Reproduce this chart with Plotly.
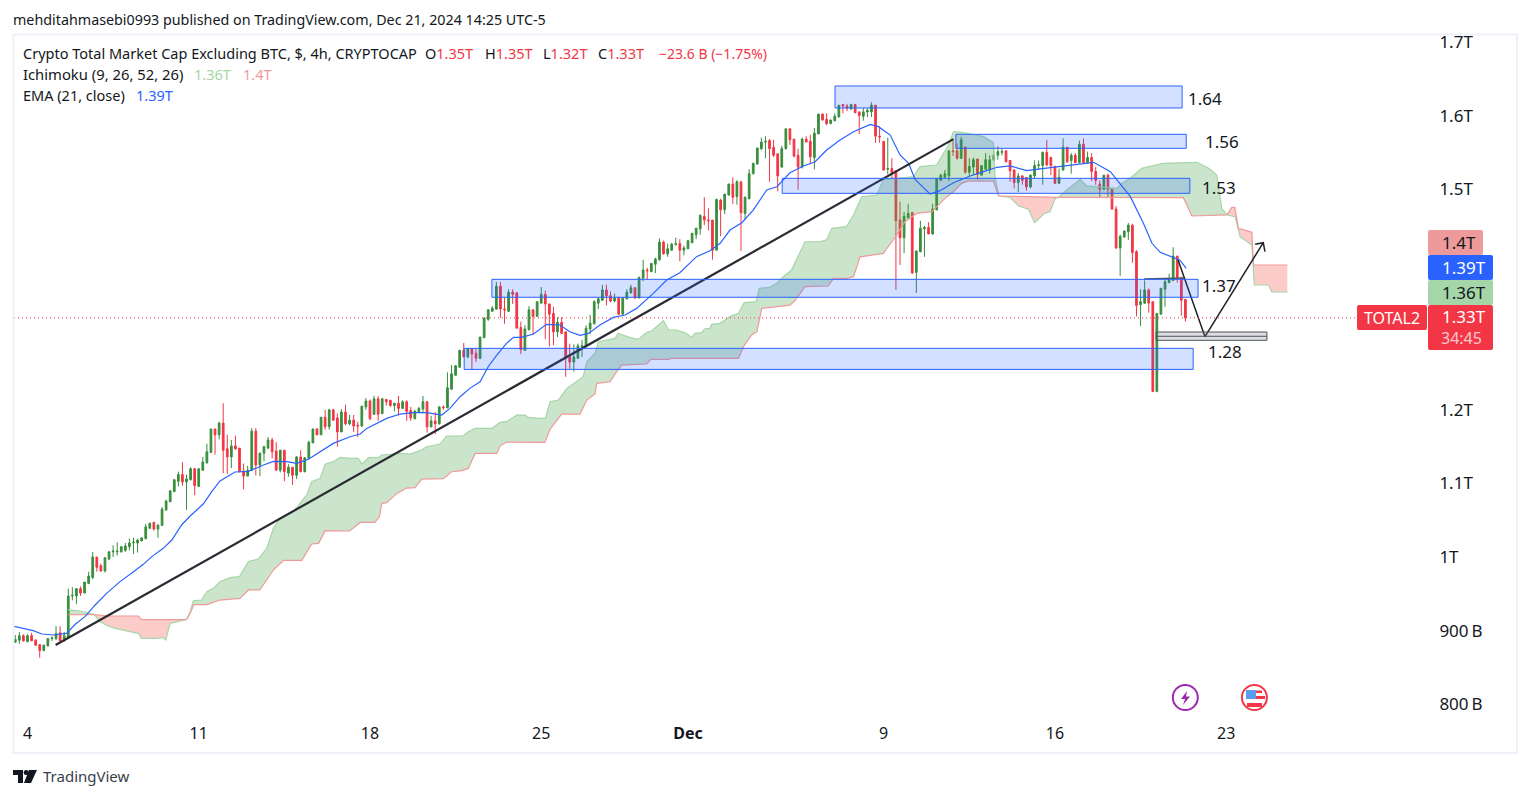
import plotly.graph_objects as go

# ---------- candles (billions USD), one per 4h bar; bar 0 = Nov 4 00:00 ----------
first_bar = -3
opens = [
884,887,893,885,893,887,881,873,879,889,889,897,886,891,947,947,957,951,964,972,
1000,988,981,997,1007,1007,1007,1009,1014,1019,1019,1022,1025,1039,1047,1038,1043,1064,1075,1089,
1103,1112,1102,1105,1120,1096,1118,1128,1142,1174,1166,1182,1147,1136,1151,1148,1117,1110,1118,1171,
1125,1141,1148,1159,1144,1118,1145,1114,1122,1111,1136,1116,1134,1155,1174,1166,1190,1177,1200,1189,
1170,1197,1181,
1186,1179,1178,1204,1212,1194,1215,1195,1214,1213,1206,1209,1202,1211,1199,1188,1197,1201,1211,1177,
1185,1181,1204,1203,1228,1247,1258,1281,1272,1283,1277,1270,1298,1323,1334,1337,1368,1337,1334,1360,
1359,1312,1281,1309,1336,1327,1345,1357,1344,1331,1306,1319,1306,1272,1265,1270,1286,1287,1310,1317,
1345,1349,1363,1355,1348,1352,1330,1351,1359,1366,1352,1379,1390,
1388,1398,1404,1428,1412,1417,1425,1426,1417,1419,1427,1438,1446,1463,1458,1458,1417,1485,1472,1492,
1507,1490,1510,1467,1487,1521,1534,1555,1564,1566,1557,1548,1530,1555,1582,1568,1546,1530,1568,1565,
1543,1575,1602,1595,1589,1593,1598,1615,1613,1609,1615,1605,1599,1605,1605,1614,1572,1565,1527,1528,
1525,1458,1434,1461,1468,1387,1415,1446,1448,1439,1472,1512,1516,1518,1552,1552,1542,1557,1523,
1530,1541,1519,1527,1526,1540,1546,1550,1552,1539,1526,1509,1518,1516,1503,1518,1532,1532,1550,1543,
1531,1508,1526,1557,1539,1546,1536,1561,1536,1543,1524,1507,1500,1519,1500,1473,1420,1435,1442,1451,
1415,1343,1345,1363,1347,1225,1330,1364,1373,1376,1409,1379,1350]
highs = [
894,898,895,895,897,888,881,881,890,892,906,906,898,957,959,957,960,966,980,1007,
1000,991,999,1008,1016,1020,1015,1019,1025,1026,1025,1026,1045,1046,1048,1045,1068,1078,1090,1106,
1116,1129,1112,1122,1121,1120,1136,1154,1174,1174,1184,1209,1166,1159,1165,1148,1127,1124,1175,1175,
1142,1151,1163,1162,1156,1146,1145,1126,1122,1137,1145,1135,1158,1174,1175,1190,1200,1201,1201,1195,
1201,1207,1193,
1193,1184,1205,1216,1214,1219,1219,1216,1215,1213,1209,1219,1213,1213,1204,1200,1204,1219,1212,1192,
1197,1205,1206,1251,1261,1261,1281,1291,1284,1284,1284,1299,1325,1337,1341,1374,1374,1352,1364,1364,
1360,1320,1315,1341,1336,1347,1367,1362,1344,1340,1326,1326,1306,1290,1289,1290,1295,1315,1329,1349,
1352,1370,1370,1361,1358,1354,1353,1364,1370,1366,1381,1404,1393,
1399,1407,1433,1430,1426,1427,1434,1432,1423,1430,1440,1447,1466,1489,1474,1458,1487,1487,1494,1507,
1516,1512,1510,1490,1527,1536,1556,1570,1572,1568,1567,1548,1559,1582,1582,1568,1555,1570,1572,1574,
1583,1602,1603,1603,1594,1603,1614,1615,1616,1616,1616,1605,1610,1610,1618,1614,1585,1565,1570,1542,
1525,1483,1469,1480,1469,1416,1457,1450,1455,1480,1515,1521,1526,1553,1567,1562,1571,1558,1542,
1543,1541,1532,1549,1546,1558,1558,1555,1553,1539,1527,1522,1519,1516,1520,1539,1539,1551,1567,1544,
1531,1528,1569,1557,1549,1549,1566,1569,1551,1549,1530,1512,1519,1521,1500,1477,1438,1444,1454,1453,
1417,1364,1376,1365,1347,1331,1366,1378,1385,1421,1409,1381,1351]
lows = [
884,882,885,884,886,880,863,872,879,886,887,885,885,890,941,936,947,951,963,970,
980,980,979,997,1000,1002,1006,1007,1009,1004,1006,1021,1024,1039,1036,1026,1042,1063,1075,1088,
1096,1097,1064,1104,1084,1095,1117,1127,1142,1139,1160,1114,1113,1121,1146,1115,1092,1110,1117,1111,
1110,1130,1147,1134,1118,1115,1103,1109,1098,1106,1115,1115,1133,1155,1166,1166,1173,1173,1185,1150,
1170,1179,1179,
1170,1163,1177,1200,1186,1193,1185,1194,1206,1204,1198,1192,1201,1185,1185,1187,1197,1195,1169,1176,
1167,1180,1200,1202,1228,1247,1258,1271,1270,1255,1265,1269,1298,1321,1334,1336,1325,1317,1333,1344,
1311,1276,1280,1308,1302,1327,1345,1296,1286,1288,1299,1303,1245,1256,1252,1270,1272,1286,1303,1316,
1337,1348,1342,1346,1346,1329,1330,1350,1358,1351,1352,1375,1377,
1387,1386,1403,1411,1408,1416,1423,1402,1410,1419,1427,1432,1438,1451,1444,1404,1417,1436,1466,1491,
1480,1479,1416,1458,1486,1520,1534,1553,1542,1510,1544,1497,1529,1554,1560,1543,1499,1528,1564,1534,
1527,1575,1593,1587,1589,1592,1598,1603,1606,1608,1603,1575,1593,1598,1598,1563,1563,1525,1520,1515,
1363,1397,1413,1460,1385,1359,1414,1408,1439,1438,1471,1511,1516,1511,1545,1540,1541,1521,1517,
1519,1513,1519,1527,1521,1538,1540,1546,1537,1510,1501,1496,1506,1498,1501,1515,1526,1506,1531,1519,
1507,1507,1525,1536,1521,1535,1535,1535,1535,1511,1506,1489,1499,1489,1472,1419,1382,1434,1431,1400,
1327,1314,1344,1332,1224,1224,1330,1340,1372,1375,1373,1328,1320]
closes = [
888,893,886,893,886,880,873,880,889,890,896,886,893,947,948,957,951,966,974,1000,
986,981,999,1007,1008,1008,1014,1015,1019,1020,1023,1026,1041,1046,1038,1043,1065,1076,1090,1105,
1112,1102,1106,1120,1097,1120,1129,1143,1174,1166,1182,1145,1136,1151,1147,1116,1110,1118,1171,1125,
1141,1150,1159,1143,1118,1145,1116,1122,1111,1136,1116,1135,1156,1174,1166,1190,1177,1200,1186,1170,
1197,1181,1186,
1178,1178,1205,1212,1188,1215,1194,1215,1211,1206,1209,1202,1211,1198,1189,1198,1202,1211,1177,1185,
1181,1204,1203,1230,1249,1260,1281,1272,1283,1276,1270,1299,1325,1336,1338,1368,1337,1336,1360,1357,
1311,1282,1310,1336,1327,1347,1357,1344,1330,1306,1319,1304,1270,1265,1272,1287,1287,1311,1318,1347,
1351,1363,1355,1348,1352,1330,1352,1360,1366,1352,1380,1390,1389,
1399,1405,1428,1412,1419,1425,1426,1417,1420,1430,1440,1447,1464,1458,1457,1417,1486,1472,1493,1507,
1489,1510,1468,1489,1521,1535,1556,1564,1565,1555,1546,1518,1555,1582,1567,1545,1530,1568,1564,1544,
1576,1602,1594,1589,1594,1599,1614,1613,1610,1615,1604,1600,1605,1607,1614,1572,1571,1526,1528,1521,
1457,1434,1463,1467,1386,1416,1447,1448,1439,1473,1514,1519,1521,1552,1551,1542,1567,1523,1531,
1540,1520,1532,1540,1540,1546,1551,1551,1537,1525,1509,1518,1512,1503,1519,1532,1533,1550,1533,1532,
1508,1516,1557,1537,1546,1536,1561,1536,1543,1524,1512,1500,1519,1500,1473,1420,1436,1443,1451,1414,
1342,1347,1363,1345,1225,1331,1365,1374,1377,1409,1380,1349,1325]

# ---------- EMA(21) ----------
ema_bar = [-3.5,-0.6,1.4,3.5,6.3,9.6,11.7,14.1,16.6,19.4,22.7,26,28.4,30.5,33.3,35.4,37.8,39.9,43.1,45.2,47.2,50.9,54.2,57.9,60.3,63.6,66,68.9,71.8,75,79.1,81.6,83.2,88.1,91.4,94.6,97.9,101.6,103.6,106.1,108.5,111,113,115.1,117.5,119.2,121.2,124.1,127.3,130.6,133,135.5,137.6,140.4,143.7,146.6,149.4,153.5,156.8,160,164.1,167.4,169.9,172.3,175.2,178,181.3,183.8,187,190.3,193.2,196,199.3,202.6,206.7,208.7,211.6,214,216.1,217.7,221.4,223.8,227.1,231.2,234.5,237.8,241,245.1,248.4,254.1,258.2,261.5,265.6,268,270.5,273.7,275.8,277.8,281.1,282.6,284.2]
ema_val = [905.8,902.1,899.9,895.3,894,896.2,908.5,918.9,934.8,950.6,966.5,980,990,1000.5,1011.8,1023.1,1043.5,1055.7,1072,1088.8,1103.3,1115.5,1116.4,1125,1130,1129.6,1127.3,1132.8,1143.2,1154.4,1163.5,1167.1,1174.8,1188.4,1194.3,1196.1,1196.1,1192.9,1202,1217.9,1229.2,1238.2,1258.6,1274.5,1290.3,1298.5,1298.5,1303,1316.2,1315.3,1306.2,1301.2,1303.9,1315.3,1325.7,1328.9,1337.9,1358.3,1376.4,1386.4,1408.2,1416.3,1426.3,1444.4,1454.4,1471.6,1498.8,1503.3,1522.3,1531.4,1537.3,1553.1,1566.7,1578,1588,1584.9,1573.5,1546.4,1535,1513.3,1493.3,1497.9,1508.7,1517.8,1523.8,1529.7,1531.5,1525.1,1527.4,1531.5,1535.1,1536.5,1523.8,1507.9,1489.8,1453.5,1426.4,1414.1,1406.9,1403.7,1392.4]

# ---------- Ichimoku cloud, by stretch between line crossings ----------
g1_a_x = [10,12.9,15.2,16.4];  g1_a_y = [928,926.6,923.4,921.6]
g1_b_x = [10,16.4];            g1_b_y = [921.6,921.6]

r1_b_x = [16.4,19.8,27.2,28,35,39];  r1_b_y = [921.6,919.8,919.8,914.8,914.8,915]
r1_a_x = [16.4,17.8,19.8,21.5,25.2,27.2,28,31.7,33.1,33.9,35,36.6,39]
r1_a_y = [921.6,912.1,906.2,903,898.5,896.2,889.5,889.5,890.8,887.2,909.8,912.1,915]

g2_a_x = [39,39.9,40.7,42.7,44,45.6,47.2,49.7,52,54.2,56.6,58.7,60.3,62,65.2,68.5,69.7,71.8,73,75,76.65,79.1,81.1,82.1,83.6,86.1,86.9,91.4,93.8,96.7,97.9,101.2,102.8,106.9,108.1,109.8,113.9,115.9,117.5,120,122,123.1,125.7,127,128.2,130.2,132.3,136.3,137.2,139.2,140,144.1,144.9,147.8,149.8,151.9,153.1,156,157.2,159.2,161.3,162.9,163.7,165.4,166,167.4,167.8,169.9,172.3,174.4,175.8,178.7,179.5,182.1,183.8,185.4,187.4,190.7,194.4,196,197.3,200.9,202.6,204.6,208.3,209.9,217.3,218.9,223,225.9,227.1,229.6,234.5,236.9,237.3,238.2]
g2_a_y = [915,925.7,940.6,941.5,952.9,957.4,966.5,971.9,973.3,993.7,997.3,1011.8,1039,1052.6,1061.6,1084.3,1102.4,1106.9,1126,1129.6,1135.4,1134,1134,1126.3,1135,1135.4,1138.6,1140.8,1139.9,1145.4,1149.9,1153.5,1164.4,1164.8,1170.3,1174.8,1174.8,1183,1183.9,1192.9,1192.9,1189.3,1188.4,1188.4,1211.1,1213.3,1229.2,1245,1265.4,1276.8,1292.6,1297.1,1303.9,1298.1,1295.8,1305.4,1307.2,1321.2,1308.5,1308.5,1304.9,1298.6,1304,1304.9,1309.9,1310.8,1316.2,1317.6,1326.7,1331.2,1345.7,1347,1365.2,1366.5,1372,1381,1390,1428.5,1428.5,1431,1446.7,1449,1464.8,1489.7,1492,1512.4,1516.9,1530.5,1532.8,1560,1578,1576.8,1571.3,1563.2,1517,1490.7]
g2_b_x = [39,39.9,40.8,44,47.2,52.1,54.2,57,60.3,62.8,67.3,69.7,71.4,73,79,81.6,85.2,86.3,86.9,88.1,90.6,93,95.05,96.7,102,104,106.5,108.1,109.8,115.1,115.9,117.5,126.9,128.2,131,135.5,137.2,139.2,139.6,142.9,144.5,145.7,151.9,152.9,157.2,158,174.4,175.6,177.6,178.9,180.1,182.1,187,188.3,190.7,196.4,197.7,200.9,202.6,204.2,209.9,213.2,215.2,218.1,221.8,225,227.1,229.1,230.8,236.9,238.2]
g2_b_y = [915,923.4,935.2,935.2,941.5,943.8,955.2,955.2,982.3,995.5,995.5,1017.7,1018.6,1035.8,1035.3,1047,1047,1054.7,1072.9,1073.8,1086.4,1093.7,1094.2,1105.9,1106.4,1115.9,1117.3,1120.4,1140.8,1140.8,1150.8,1156.2,1155.8,1173.9,1194.3,1194.3,1213.3,1221.5,1236,1238.2,1251.8,1260.9,1262.3,1268.7,1268.7,1270,1270,1285.9,1301.7,1306.3,1338,1339.4,1342.4,1349,1367.4,1368.3,1378.7,1378.7,1381,1408,1412.7,1437.6,1455.7,1467,1469.3,1487.4,1496.5,1507.8,1511,1511,1490.7]

r2_b_x = [238.2,252.9];  r2_b_y = [1490.7,1488.9]
r2_a_x = [238.2,241,243.1,245.5,247,249.2,250.8,252.1,252.9]
r2_a_y = [1490.7,1488.9,1477,1472.6,1454.4,1466.2,1469.4,1487.5,1488.9]

g3_a_x = [252.9,254.9,258.2,259.8,267.2,268.4,270.5,273.3,278.6,286.8,289.7,291.7,292.9,294.2]
g3_a_y = [1488.9,1498.9,1513.3,1504.3,1501.1,1507.9,1514.7,1528.3,1535.1,1536.5,1528.3,1519.2,1473.9,1465]
g3_b_x = [252.9,283.5,285.6,294.2];  g3_b_y = [1488.9,1488.4,1463.5,1465]

r3_b_x = [294.2,295.4,296.1,297,300.3,300.7,309]
r3_b_y = [1465,1475.3,1475.3,1446.7,1441.3,1396.9,1396.9]
r3_a_x = [294.2,296.2,297.4,300.3,300.9,304.4,305.2,309]
r3_a_y = [1465,1462.6,1435.4,1424,1369.7,1369.7,1360.2,1360.2]

# ---------- drawings ----------
zone_left   = [198.06,227.7,185.1,113.9,107.1]
zone_right  = [283.2,284.2,285.1,287.1,285.9]
zone_top    = [1640.2,1574.5,1514.7,1377.4,1283.6]
zone_bottom = [1610.3,1555.5,1494.3,1353,1255]
zone_labels = ["1.64","1.56","1.53","1.37","1.28"]
label_bar   = [288.9,293,292.2,292.2,293.8]
label_price = [1623,1565,1502,1369,1279.5]
gray_zone = [276.8,304,1305.8,1294.5,1300]
trend_x = [6.9,227.1];  trend_y = [880.3,1568]
flat_x = [273.9,283.7]; flat_y = [1377.8,1379.2]
path_x = [282.2,288.8,303.1]; path_y = [1403.7,1299.4,1427.2]
head_x = [301.1,303.1,303.5]; head_y = [1425,1427.2,1415]

last_price = 1325
tick_prices = [800,900,1000,1100,1200,1500,1600,1700]
tick_texts = ["800\u2009B","900\u2009B","1T","1.1T","1.2T","1.5T","1.6T","1.7T"]
date_bars = [0,42,84,126,162,210,252,294]
date_texts = ["4","11","18","25","<b>Dec</b>","9","16","23"]

# ---------- layout helpers ----------
PL, PR, PT, PB = 14, 1428, 35, 719
GREEN, RED, BLUE, INK = "#388E3C", "#F23645", "#2962FF", "#131722"
FONT = "Noto Sans, sans-serif"
def fx(p): return (p - PL) / (PR - PL)
def fy(p): return (PB - p) / (PB - PT)

def rounded(x0, y0, x1, y1, r=2):
    P = lambda a, b: f"{fx(a):.5f},{fy(b):.5f}"
    return (f"M{P(x0+r,y0)} L{P(x1-r,y0)} Q{P(x1,y0)} {P(x1,y0+r)} L{P(x1,y1-r)} Q{P(x1,y1)} {P(x1-r,y1)} "
            f"L{P(x0+r,y1)} Q{P(x0,y1)} {P(x0,y1-r)} L{P(x0,y0+r)} Q{P(x0,y0)} {P(x0+r,y0)} Z")
def poly(points):
    return "M" + " L".join(f"{fx(a):.5f},{fy(b):.5f}" for a, b in points) + " Z"

fig = go.Figure()

def cloud(ax, ay, bx, by, fill):
    fig.add_trace(go.Scatter(x=ax + bx[::-1], y=ay + by[::-1], mode="lines", fill="toself",
                             fillcolor=fill, line=dict(width=0), hoverinfo="skip"))
    fig.add_trace(go.Scatter(x=ax, y=ay, mode="lines", line=dict(color="#A5D6A7", width=1.2), hoverinfo="skip"))
    fig.add_trace(go.Scatter(x=bx, y=by, mode="lines", line=dict(color="#EF9A9A", width=1.2), hoverinfo="skip"))

G_FILL, R_FILL = "rgba(67,160,71,0.28)", "rgba(244,67,54,0.27)"
cloud(g1_a_x, g1_a_y, g1_b_x, g1_b_y, G_FILL)
cloud(r1_a_x, r1_a_y, r1_b_x, r1_b_y, R_FILL)
cloud(g2_a_x, g2_a_y, g2_b_x, g2_b_y, G_FILL)
cloud(r2_a_x, r2_a_y, r2_b_x, r2_b_y, R_FILL)
cloud(g3_a_x, g3_a_y, g3_b_x, g3_b_y, G_FILL)
cloud(r3_a_x, r3_a_y, r3_b_x, r3_b_y, R_FILL)

bars = list(range(first_bar, first_bar + len(closes)))
fig.add_trace(go.Candlestick(
    x=bars, open=opens, high=highs, low=lows, close=closes, whiskerwidth=0,
    increasing=dict(line=dict(color=GREEN, width=1), fillcolor=GREEN),
    decreasing=dict(line=dict(color=RED, width=1), fillcolor=RED),
    hoverinfo="skip"))
fig.add_trace(go.Scatter(x=ema_bar, y=ema_val, mode="lines", line=dict(color=BLUE, width=1.2), hoverinfo="skip"))
fig.add_trace(go.Scatter(x=trend_x, y=trend_y, mode="lines", line=dict(color="#2A2A32", width=2.2), hoverinfo="skip"))
fig.add_trace(go.Scatter(x=flat_x, y=flat_y, mode="lines", line=dict(color="#50535E", width=1.5), hoverinfo="skip"))
fig.add_trace(go.Scatter(x=path_x, y=path_y, mode="lines", line=dict(color="#202028", width=1.5), hoverinfo="skip"))
fig.add_trace(go.Scatter(x=head_x, y=head_y, mode="lines", line=dict(color="#202028", width=1.5), hoverinfo="skip"))

shapes = []
for l, r, t, b in zip(zone_left, zone_right, zone_top, zone_bottom):
    shapes.append(dict(type="rect", xref="x", yref="y", x0=l, x1=r, y0=b, y1=t,
                       fillcolor="rgba(41,98,255,0.2)", line=dict(color=BLUE, width=1)))
shapes.append(dict(type="rect", xref="x", yref="y", x0=gray_zone[0], x1=gray_zone[1], y0=gray_zone[3], y1=gray_zone[2],
                   fillcolor="rgba(120,123,134,0.25)", line=dict(color="#50535E", width=1)))
shapes.append(dict(type="line", xref="x", yref="y", x0=gray_zone[0], x1=gray_zone[1], y0=gray_zone[4], y1=gray_zone[4],
                   line=dict(color="#50535E", width=1)))
shapes.append(dict(type="line", xref="paper", yref="y", x0=0, x1=fx(1358), y0=last_price, y1=last_price,
                   line=dict(color=RED, width=1, dash="1px,3px")))
# page frame
shapes.append(dict(type="rect", xref="paper", yref="paper", x0=fx(13.5), x1=fx(1517), y0=fy(753), y1=fy(34.5),
                   line=dict(color="#F0F1F8", width=2), fillcolor="rgba(0,0,0,0)"))
# price tags
for x0, y0, x1, y1, col in [(1428,230,1483,255,"#EF9A9A"),(1428,255,1493,280,BLUE),(1428,280,1493,305,"#A5D6A7"),
                            (1428,305,1493,350,RED),(1357,305,1427,330,RED)]:
    shapes.append(dict(type="path", xref="paper", yref="paper", path=rounded(x0,y0,x1,y1), fillcolor=col, line=dict(width=0)))
# event icons
def circle(cx, cy, r, line, width, fill="white"):
    return dict(type="circle", xref="paper", yref="paper", x0=fx(cx-r), x1=fx(cx+r), y0=fy(cy+r), y1=fy(cy-r),
                line=dict(color=line, width=width), fillcolor=fill)
shapes.append(circle(1185.3, 697.5, 12.5, "#9C27B0", 2))
shapes.append(dict(type="path", xref="paper", yref="paper", fillcolor="#9C27B0", line=dict(width=0),
                   path=poly([(1187,691),(1181,699),(1185,699),(1183,705),(1190,696.5),(1186,696.5)])))
shapes.append(circle(1254.4, 697.5, 12.5, RED, 2))
for x0, y0, x1, y1, col in [(1246,690,1256,699,"#5B9CF0"),(1256,690.5,1262,693,RED),(1256,696,1265,699,RED),(1247,703,1262,707,RED)]:
    shapes.append(dict(type="rect", xref="paper", yref="paper", x0=fx(x0), x1=fx(x1), y0=fy(y1), y1=fy(y0),
                       fillcolor=col, line=dict(width=0)))
# logo
for pts in [[(13,770),(23,770),(23,783),(18,783),(18,775),(13,775)],
            [(29,770),(37,770),(31,783),(24,783)]]:
    shapes.append(dict(type="path", xref="paper", yref="paper", path=poly(pts), fillcolor=INK, line=dict(width=0)))
shapes.append(circle(26.2, 772.4, 2.5, INK, 0, INK))

ann = []
def text(x, y, s, size=14, color=INK, anchor="left", family=FONT):
    ann.append(dict(xref="paper", yref="paper", x=fx(x), y=fy(y), text=s, showarrow=False, xanchor=anchor,
                    yanchor="middle", font=dict(size=size, color=color, family=family), borderpad=0))

text(12, 19, "mehditahmasebi0993 published on TradingView.com, Dec 21, 2024 14:25 UTC-5", 14.3)
text(22, 53.5, "Crypto Total Market Cap Excluding BTC, $, 4h, CRYPTOCAP", 14.5)
for x, lab, val in [(424,"O","1.35T"),(484,"H","1.35T"),(542,"L","1.32T"),(597,"C","1.33T")]:
    text(x, 53.5, f"{lab}<span style='color:{RED}'>{val}</span>", 14.5)
text(658, 53.5, "−23.6 B (−1.75%)", 14, RED)
text(22, 74.5, "Ichimoku (9, 26, 52, 26)", 14.8)
text(193, 74.5, "1.36T", 14.5, "#A5D6A7")
text(242, 74.5, "1.4T", 14.5, "#EF9A9A")
text(22, 95.5, "EMA (21, close)", 14.5)
text(135, 95.5, "1.39T", 14.5, BLUE)
text(42, 776, "TradingView", 15, "#3A3E4A")
text(1477, 242, "1.4T", 17, INK, "right")
text(1487, 267, "1.39T", 17, "white", "right")
text(1487, 292, "1.36T", 17, INK, "right")
text(1487, 317, "1.33T", 17, "white", "right")
text(1483, 338, "34:45", 16, "#FBC9CE", "right")
text(1392, 317.5, "TOTAL2", 16, "white", "center")
for lab, bx, py in zip(zone_labels, label_bar, label_price):
    ann.append(dict(xref="x", yref="y", x=bx, y=py, text=lab, showarrow=False, xanchor="center", yanchor="middle",
                    font=dict(size=17, color=INK, family=FONT)))

fig.update_layout(
    width=1530, height=798, autosize=False, showlegend=False,
    margin=dict(l=PL, r=1530-PR, t=PT, b=798-PB, pad=0),
    paper_bgcolor="white", plot_bgcolor="white", boxgap=0.4,
    font=dict(family=FONT, color=INK),
    shapes=shapes, annotations=ann,
    xaxis=dict(range=[-3.31, 343.5], showgrid=False, zeroline=False, showline=False, rangeslider=dict(visible=False),
               tickmode="array", tickvals=date_bars, ticktext=date_texts, tickfont=dict(size=16, color=INK, family=FONT),
               ticks="outside", ticklen=0, tickcolor="rgba(0,0,0,0)"),
    yaxis=dict(range=[779.8, 1709.5], side="right", showgrid=False, zeroline=False, showline=False,
               tickmode="array", tickvals=tick_prices, ticktext=tick_texts, tickfont=dict(size=17, color=INK, family=FONT),
               ticks="outside", ticklen=7, tickcolor="rgba(0,0,0,0)"),
)
fig.write_html("out.html", config={"displayModeBar": False},
               post_script="document.body.style.margin='0';document.body.style.overflow='hidden';")
